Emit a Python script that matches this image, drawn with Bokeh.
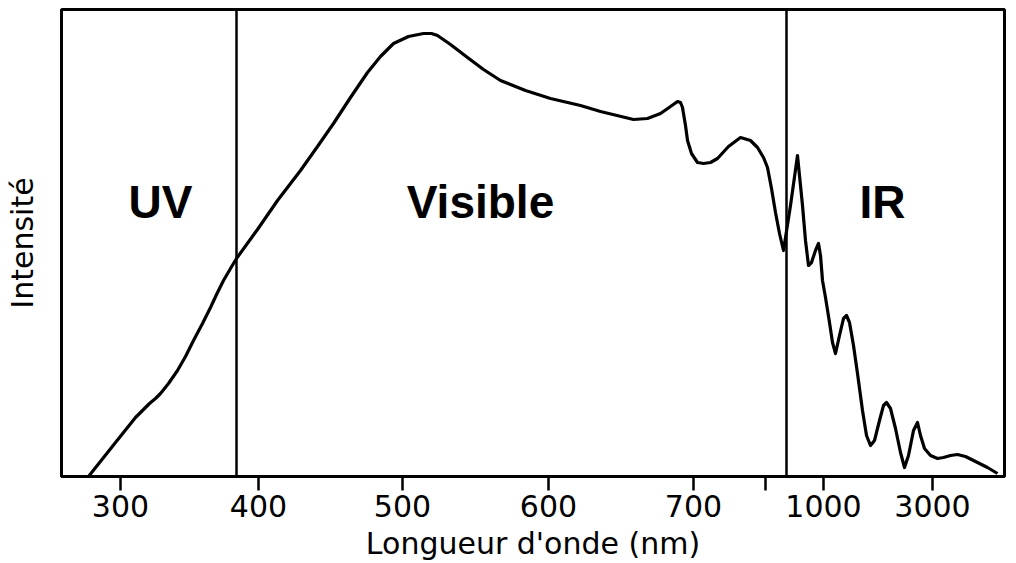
from bokeh.plotting import figure
from bokeh.models import Range1d, FixedTicker, Span, ColumnDataSource
from bokeh.core.properties import value
from bokeh.embed import file_html
from bokeh.resources import INLINE

# Axis position units (non-linear wavelength scale drawn as in the source)
tick_pos = [59, 197, 341, 487, 632, 704, 762, 871]
tick_labels = ["300", "400", "500", "600", "700", "", "1000", "3000"]

# Region boundaries (axis position units)
boundaries = [175, 725]

# Region labels
region_names = ["UV", "Visible", "IR"]
region_x = [99, 419, 821]
region_y = [275, 275, 275]

# Spectrum curve (axis position, relative intensity)
curve_x = [27, 54, 74, 82, 88, 94, 99, 107, 116, 124, 132, 141, 149, 156, 162, 169, 175,
           196, 216, 239, 256, 272, 289, 306, 319, 332, 347, 362, 370, 376, 389,
           406, 422, 439, 464, 489, 519, 539, 572, 586, 599, 609, 616, 619, 621,
           624, 626, 630, 636, 642, 649, 656, 667, 679, 689, 696, 702, 706, 710,
           714, 718, 722, 729, 736, 741, 744, 747, 750, 754, 757, 759, 761, 764,
           768, 771, 774, 778, 782, 785, 788, 792, 796, 801, 805, 809, 813, 818,
           822, 825, 829, 834, 839, 843, 847, 852, 856, 859, 863, 869, 876, 882,
           889, 896, 904, 914, 926, 936]
curve_y = [0, 34, 59, 67, 73, 78, 83, 93, 106, 120, 136, 153, 169, 184, 196, 208, 218,
           247, 276, 306, 330, 353, 379, 404, 420, 433, 440, 443, 443, 441, 432,
           419, 407, 396, 386, 378, 371, 365, 357, 358, 363, 370, 375, 374, 369,
           351, 336, 323, 314, 313, 314, 318, 330, 339, 336, 329, 319, 309, 288,
           264, 243, 226, 271, 321, 271, 236, 211, 214, 226, 233, 221, 196, 179,
           154, 134, 123, 141, 158, 161, 154, 131, 103, 66, 41, 31, 36, 56,
           71, 74, 68, 48, 24, 9, 21, 46, 54, 41, 28, 21, 18, 19,
           21, 22, 20, 15, 9, 3]

FONT = "DejaVu Sans"

p = figure(width=1016, height=563, output_backend="svg", toolbar_location=None,
           x_range=Range1d(0, 943), y_range=Range1d(0, 467),
           min_border_left=61, min_border_right=12, min_border_top=9,
           min_border_bottom=87)
p.background_fill_color = "white"
p.border_fill_color = "white"
p.xgrid.visible = False
p.ygrid.visible = False
p.outline_line_color = "black"
p.outline_line_width = 3
p.outline_line_alpha = 1

p.line(curve_x, curve_y, line_color="black", line_width=3.2, line_join="round")

for b in boundaries:
    p.add_layout(Span(location=b, dimension="height", line_color="black",
                      line_width=2.5))

src = ColumnDataSource(dict(x=region_x, y=region_y, t=region_names))
p.text(x="x", y="y", text="t", source=src, text_align="center",
       text_baseline="middle", text_font=value("Liberation Sans"),
       text_font_style="bold", text_font_size="46px", text_color="black")

xa = p.xaxis[0]
xa.ticker = FixedTicker(ticks=tick_pos)
xa.major_label_overrides = {t: l for t, l in zip(tick_pos, tick_labels)}
xa.minor_tick_line_color = None
xa.major_tick_in = 0
xa.major_tick_out = 14
xa.major_tick_line_width = 2.5
xa.major_tick_line_color = "black"
xa.axis_line_width = 3
xa.axis_line_color = "black"
xa.major_label_standoff = 4
xa.major_label_text_font = FONT
xa.major_label_text_font_size = "30px"
xa.major_label_text_color = "black"
xa.axis_label = "Longueur d'onde (nm)"
xa.axis_label_text_font = FONT
xa.axis_label_text_font_size = "30px"
xa.axis_label_text_font_style = "normal"
xa.axis_label_text_color = "black"
xa.axis_label_standoff = 6

ya = p.yaxis[0]
ya.ticker = FixedTicker(ticks=[])
ya.major_tick_in = 0
ya.major_tick_out = 0
ya.minor_tick_line_color = None
ya.major_label_text_font_size = "0px"
ya.major_label_standoff = 0
ya.axis_line_color = None
ya.axis_label = "Intensité"
ya.axis_label_text_font = FONT
ya.axis_label_text_font_size = "30px"
ya.axis_label_text_font_style = "normal"
ya.axis_label_text_color = "black"
ya.axis_label_standoff = 22

open("out.html", "w").write(file_html(p, INLINE))
